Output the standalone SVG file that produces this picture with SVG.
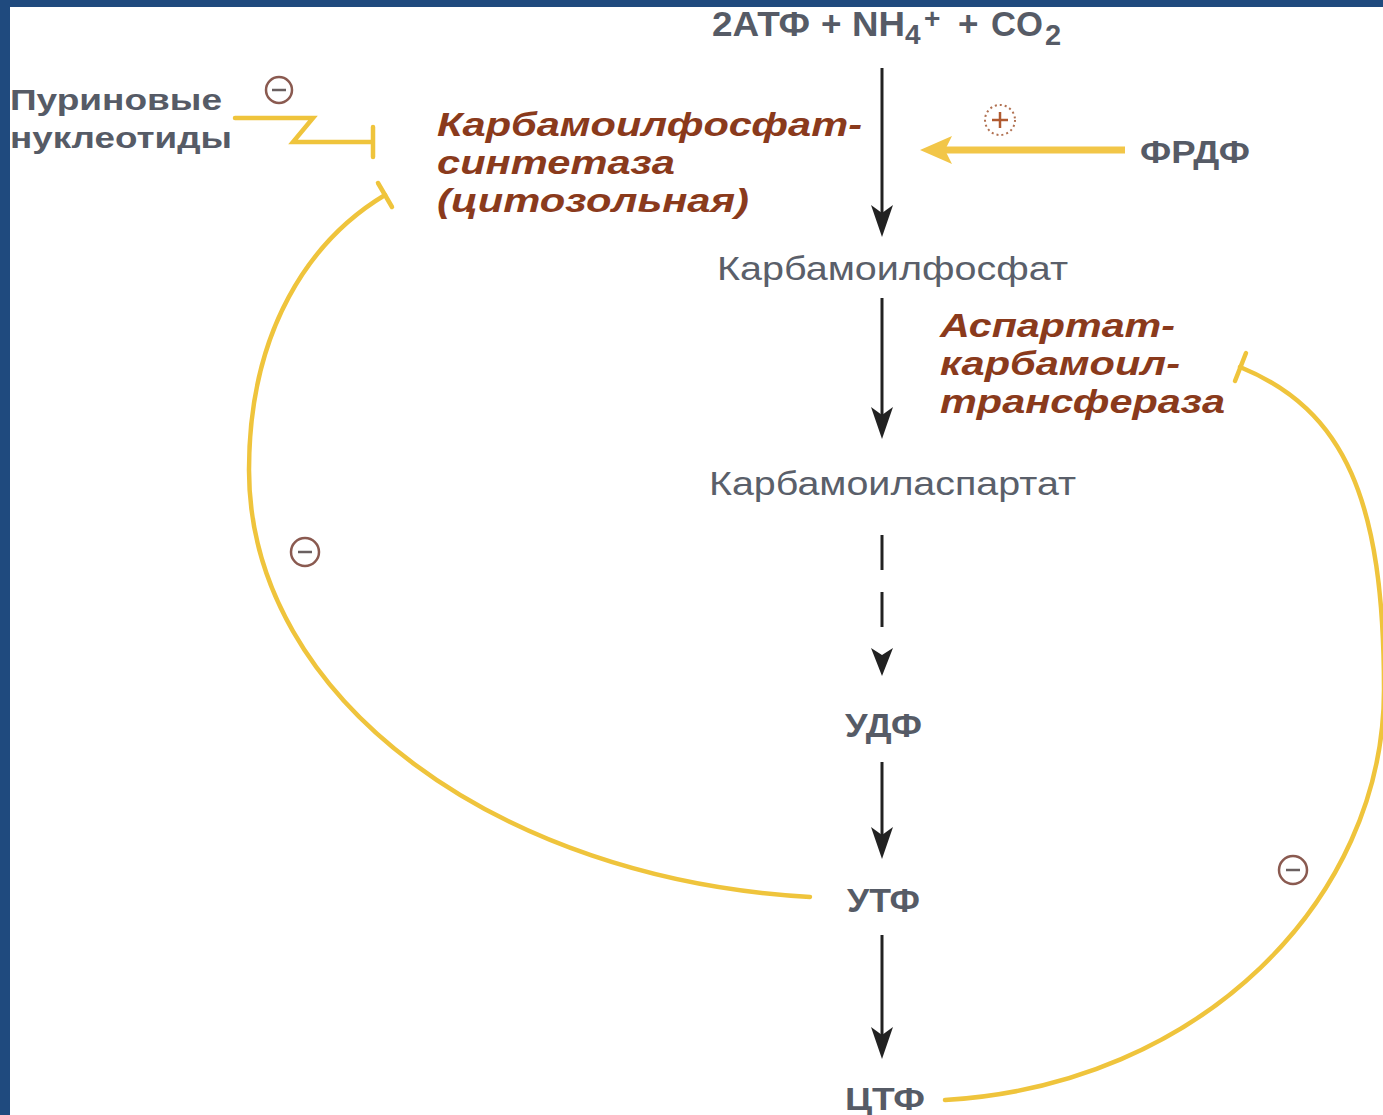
<svg xmlns="http://www.w3.org/2000/svg" width="1383" height="1115" viewBox="0 0 1383 1115">
<defs>
<style>
.g{font-family:"Liberation Sans",Arial,sans-serif;fill:#565b66;font-weight:bold}
.gr{font-family:"Liberation Sans",Arial,sans-serif;fill:#5a5f6a}
.b{font-family:"Liberation Sans",Arial,sans-serif;fill:#8a3a1c;font-weight:bold;font-style:italic}
.blk{stroke:#222;stroke-width:3;fill:none}
.y{stroke:#efc43c;stroke-width:4.5;fill:none;stroke-linecap:round}
.c{fill:none;stroke:#8a5a50;stroke-width:2.5}
</style>
</defs>
<rect x="0" y="0" width="1383" height="1115" fill="#ffffff"/>
<rect x="0" y="0" width="1383" height="7" fill="#1f4a7e"/>
<rect x="0" y="0" width="10" height="1115" fill="#1f4a7e"/>

<g id="connectors">
<line class="blk" x1="882" y1="68" x2="882" y2="218"/>
<path d="M871,205 L882,237 L893,205 L882,213 Z" fill="#222"/>
<line class="blk" x1="882" y1="298" x2="882" y2="420"/>
<path d="M871,407 L882,439 L893,407 L882,415 Z" fill="#222"/>
<line class="blk" x1="882" y1="535" x2="882" y2="570"/>
<line class="blk" x1="882" y1="592" x2="882" y2="627"/>
<path d="M871,648 L882,676 L893,648 L882,655 Z" fill="#222"/>
<line class="blk" x1="882" y1="762" x2="882" y2="840"/>
<path d="M871,827 L882,859 L893,827 L882,835 Z" fill="#222"/>
<line class="blk" x1="882" y1="935" x2="882" y2="1040"/>
<path d="M871,1027 L882,1059 L893,1027 L882,1035 Z" fill="#222"/>

<line x1="1125" y1="150" x2="945" y2="150" stroke="#f2c648" stroke-width="7"/>
<path d="M920,150 L952,136 L945,150 L952,164 Z" fill="#f2c648"/>

<polyline class="y" points="235,118 313,118 293,142 372,142"/>
<line class="y" x1="373" y1="127" x2="373" y2="157"/>

<path class="y" d="M810,897 C500,880 249,700 249,470 C249,330 310,240 385,195"/>
<line class="y" x1="378" y1="183" x2="392" y2="207"/>

<path class="y" d="M945,1100 C1200,1085 1384,900 1384,690 C1384,500 1345,410 1240,367"/>
<line class="y" x1="1246" y1="353" x2="1235" y2="381"/>
</g>

<g id="top-substrates">
<text class="g" y="36" font-size="35"><tspan x="712" textLength="98" lengthAdjust="spacingAndGlyphs">2АТФ</tspan><tspan x="821">+</tspan><tspan x="852" textLength="53" lengthAdjust="spacingAndGlyphs">NH</tspan><tspan x="905" y="44" font-size="28">4</tspan><tspan x="924" y="28" font-size="28">+</tspan><tspan x="958" y="36">+</tspan><tspan x="991" textLength="52" lengthAdjust="spacingAndGlyphs">CO</tspan><tspan x="1045" y="45" font-size="29">2</tspan></text>
</g>
<g id="purines">
<text class="g" x="10" y="110" font-size="30" textLength="212" lengthAdjust="spacingAndGlyphs">Пуриновые</text>
<text class="g" x="10" y="148" font-size="30" textLength="222" lengthAdjust="spacingAndGlyphs">нуклеотиды</text>
<circle class="c" cx="279" cy="90" r="13"/>
<line x1="272" y1="90" x2="286" y2="90" stroke="#6a6060" stroke-width="2.5"/>
</g>
<g id="cps">
<text class="b" x="437" y="136" font-size="34" textLength="425" lengthAdjust="spacingAndGlyphs">Карбамоилфосфат-</text>
<text class="b" x="437" y="174" font-size="34" textLength="238" lengthAdjust="spacingAndGlyphs">синтетаза</text>
<text class="b" x="437" y="212" font-size="34" textLength="312" lengthAdjust="spacingAndGlyphs">(цитозольная)</text>
</g>
<g id="prpp">
<text class="g" x="1140" y="163" font-size="32" textLength="110" lengthAdjust="spacingAndGlyphs">ФРДФ</text>
<circle cx="1000" cy="120" r="15" fill="none" stroke="#b07050" stroke-width="2" stroke-dasharray="2 3"/>
<line x1="992" y1="120" x2="1008" y2="120" stroke="#b05a30" stroke-width="2.5"/>
<line x1="1000" y1="112" x2="1000" y2="128" stroke="#b05a30" stroke-width="2.5"/>
</g>
<g id="carbamoylphosphate">
<text class="gr" x="717" y="280" font-size="34" textLength="351" lengthAdjust="spacingAndGlyphs">Карбамоилфосфат</text>
</g>
<g id="atc">
<text class="b" x="940" y="337" font-size="34" textLength="235" lengthAdjust="spacingAndGlyphs">Аспартат-</text>
<text class="b" x="940" y="375" font-size="34" textLength="240" lengthAdjust="spacingAndGlyphs">карбамоил-</text>
<text class="b" x="940" y="413" font-size="34" textLength="285" lengthAdjust="spacingAndGlyphs">трансфераза</text>
</g>
<g id="carbamoylaspartate">
<text class="gr" x="709" y="495" font-size="34" textLength="367" lengthAdjust="spacingAndGlyphs">Карбамоиласпартат</text>
</g>
<g id="udp">
<text class="g" x="845" y="737" font-size="34" textLength="77" lengthAdjust="spacingAndGlyphs">УДФ</text>
</g>
<g id="utp">
<text class="g" x="847" y="912" font-size="34" textLength="73" lengthAdjust="spacingAndGlyphs">УТФ</text>
</g>
<g id="ctp">
<text class="g" x="845" y="1110" font-size="32" textLength="80" lengthAdjust="spacingAndGlyphs">ЦТФ</text>
</g>
<g id="inhib-utp">
<circle class="c" cx="305" cy="552" r="14"/>
<line x1="298" y1="552" x2="312" y2="552" stroke="#6a6060" stroke-width="2.5"/>
</g>
<g id="inhib-ctp">
<circle class="c" cx="1293" cy="870" r="14"/>
<line x1="1286" y1="870" x2="1300" y2="870" stroke="#6a6060" stroke-width="2.5"/>
</g>
</svg>
